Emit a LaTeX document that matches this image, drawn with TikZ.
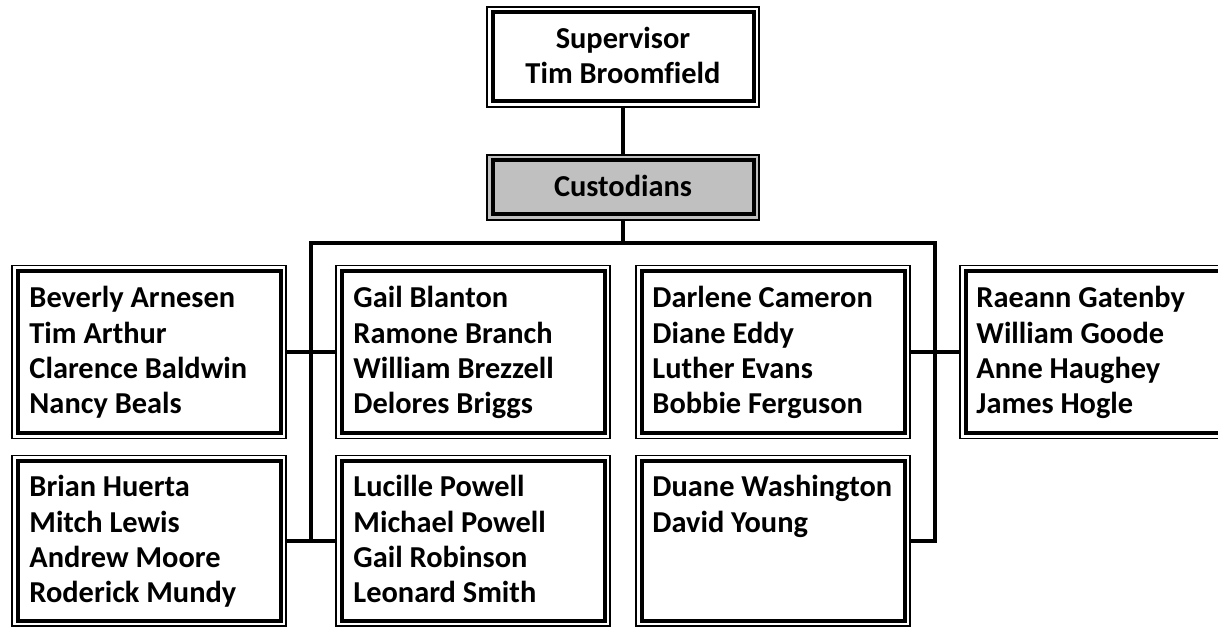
\documentclass[tikz,border=0pt]{standalone}
\usepackage{fontspec}
\setmainfont[Ligatures=NoCommon]{Carlito}
\usetikzlibrary{calc}
\definecolor{boxgray}{RGB}{192,192,192}
\tikzset{
  orgbox/.style={draw, line width=1.5pt, rectangle, inner sep=0pt,
    path picture={\draw[line width=4pt]
      ([shift={(5.5pt,-5.5pt)}]path picture bounding box.north west) rectangle
      ([shift={(-5.5pt,5.5pt)}]path picture bounding box.south east);}},
  rowone/.style={orgbox, minimum width=274pt, minimum height=173pt},
  rowtwo/.style={orgbox, minimum width=274pt, minimum height=170.5pt},
  names/.style={anchor=north west, inner sep=0pt, align=left,
    font=\bfseries\fontsize{30.4}{35.3}\selectfont},
  title/.style={inner sep=0pt, align=center,
    font=\bfseries\fontsize{30.4}{35.3}\selectfont},
  conn/.style={line width=3.5pt},
}
\begin{document}
\begin{tikzpicture}[x=1pt,y=-1pt]
\clip (0,0) rectangle (1218,628);
\fill[white] (0,0) rectangle (1218,628);

% top boxes
\node[orgbox, minimum width=272pt, minimum height=100pt] (sup) at (623,57) {};
\node[orgbox, fill=boxgray, minimum width=272pt, minimum height=65pt] (cust) at (623,187.5) {};
\node[title, anchor=north] (supt) at (623,23.3) {\strut Supervisor\\Tim Broomfield};
\node[title, anchor=base] (custt) at (623,197) {Custodians};

% row 1
\node[rowone] (b1) at (149,352) {};
\node[rowone] (b2) at (473,352) {};
\node[rowone] (b3) at (773,352) {};
\node[rowone] (b4) at (1097,352) {};
% row 2
\node[rowtwo] (b5) at (149,540.75) {};
\node[rowtwo] (b6) at (473,540.75) {};
\node[rowtwo] (b7) at (773,540.75) {};

% texts
\node[names] (t1) at ($(b1.north west)+(18,18.3)$) {\strut Beverly Arnesen\\Tim Arthur\\Clarence Baldwin\\Nancy Beals};
\node[names] (t2) at ($(b2.north west)+(18,18.3)$) {\strut Gail Blanton\\Ramone Branch\\William Brezzell\\Delores Briggs};
\node[names] (t3) at ($(b3.north west)+(17,18.3)$) {\strut Darlene Cameron\\Diane Eddy\\Luther Evans\\Bobbie Ferguson};
\node[names] (t4) at ($(b4.north west)+(17,18.3)$) {\strut Raeann Gatenby\\William Goode\\Anne Haughey\\James Hogle};
\node[names] (t5) at ($(b5.north west)+(18,17.3)$) {\strut Brian Huerta\\Mitch Lewis\\Andrew Moore\\Roderick Mundy};
\node[names] (t6) at ($(b6.north west)+(18,17.3)$) {\strut Lucille Powell\\Michael Powell\\Gail Robinson\\Leonard Smith};
\node[names] (t7) at ($(b7.north west)+(17,17.3)$) {\strut Duane Washington\\David Young};

% connectors
\coordinate (busL) at (311,243);
\coordinate (busR) at (935,243);
\coordinate (busC) at (623,243);
\draw[conn] (sup.south) -- (cust.north);
\draw[conn] (cust.south) -- (busC);
\draw[conn] (b6.west) -| (busL) -- (busR) |- (b7.east);
\draw[conn] (b1.east) -- (b2.west);
\draw[conn] (b5.east) -- (b6.west);
\draw[conn] (b3.east) -- (b4.west);
\end{tikzpicture}
\end{document}
